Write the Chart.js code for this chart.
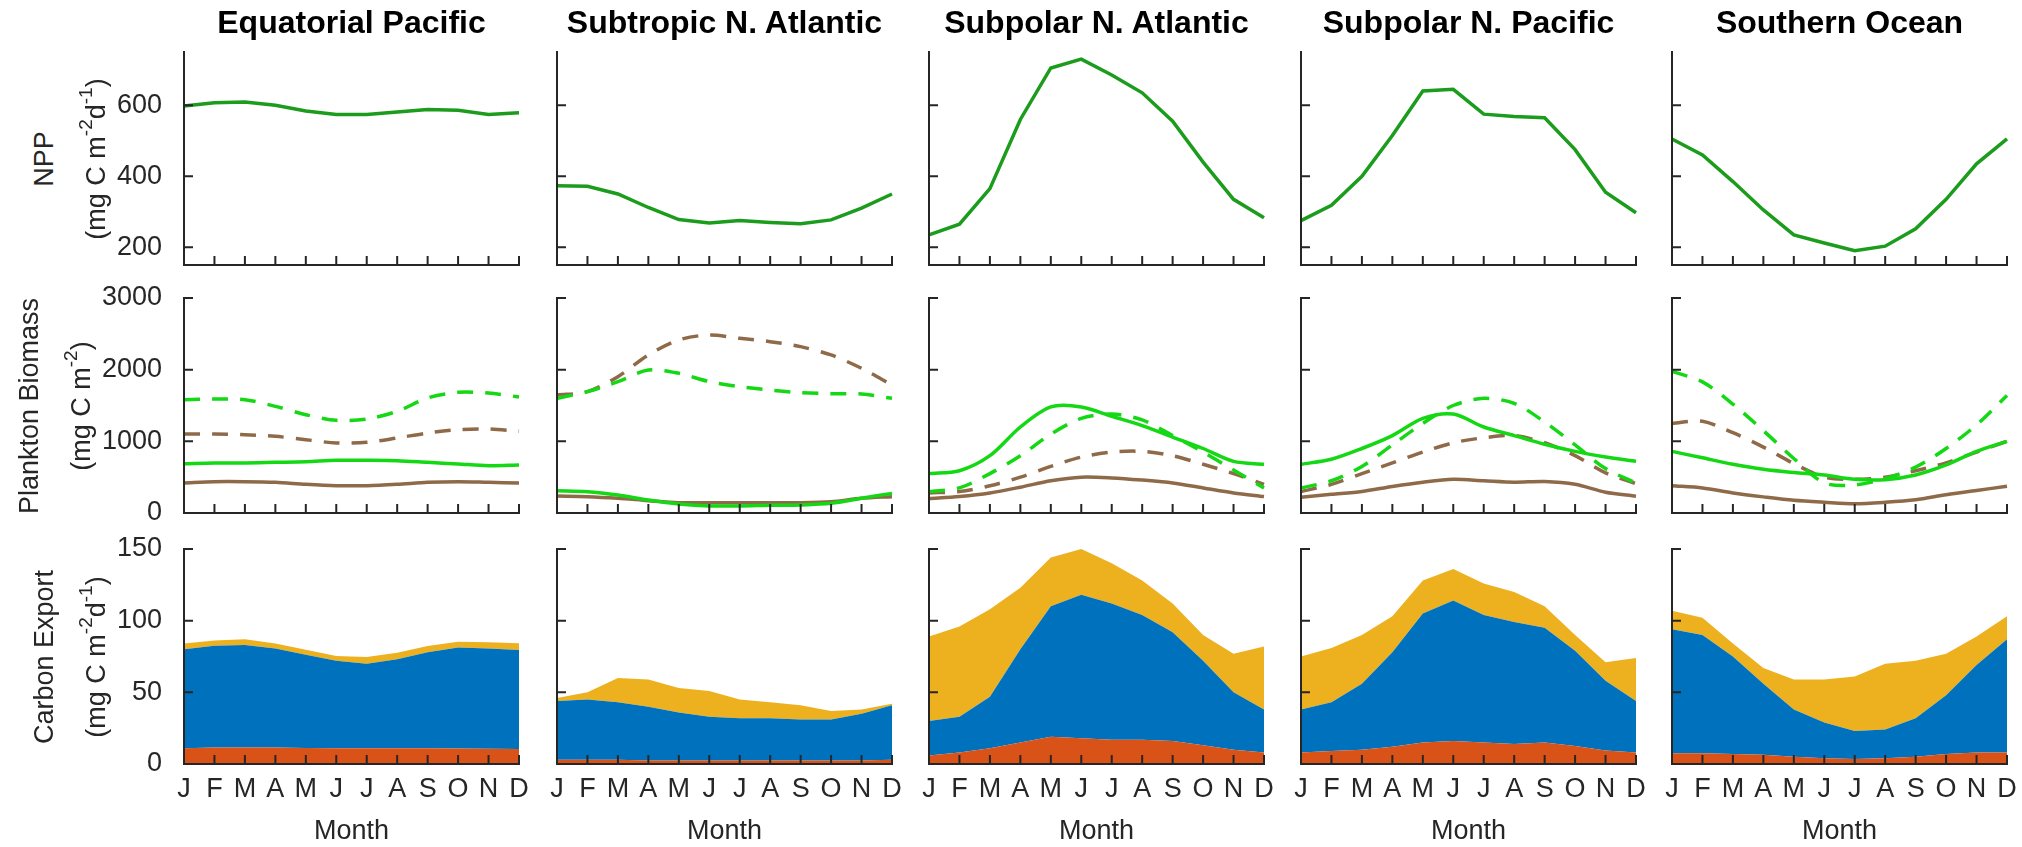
<!DOCTYPE html>
<html>
<head>
<meta charset="utf-8">
<script src="https://cdn.jsdelivr.net/npm/chart.js@4.4.1/dist/chart.umd.min.js"></script>
<style>
  body { margin: 0; width: 2022px; height: 847px; background: #fff; position: relative; overflow: hidden;
         font-family: "Liberation Sans", Arial, Helvetica, sans-serif; color: #262626; }
  canvas { position: absolute; }
  .title { position: absolute; width: 400px; text-align: center; font-weight: bold; font-size: 32px; line-height: 32px; color: #000; }
  .xlab { position: absolute; width: 200px; text-align: center; font-size: 27px; line-height: 27px; }
  .ylab { position: absolute; font-size: 27px; line-height: 27px; white-space: nowrap;
          transform: translate(-50%, -50%) rotate(-90deg); }
  .ylab sup { font-size: 19px; line-height: 0; position: relative; top: -3px; }
</style>
</head>
<body>
<script>
// month axis and region names
const months = ['J', 'F', 'M', 'A', 'M', 'J', 'J', 'A', 'S', 'O', 'N', 'D'];
const regions = ['Equatorial Pacific', 'Subtropic N. Atlantic', 'Subpolar N. Atlantic', 'Subpolar N. Pacific', 'Southern Ocean'];

const nppTicks = [200, 400, 600];
const biomassTicks = [0, 1000, 2000, 3000];
const exportTicks = [0, 50, 100, 150];

// net primary production, one row per region
const npp = [
  [598, 607, 609, 600, 584, 574, 574, 581, 588, 586, 574, 579],
  [373, 372, 350, 312, 278, 268, 275, 270, 266, 277, 310, 350],
  [235, 265, 365, 560, 705, 730, 685, 635, 555, 440, 335, 283],
  [275, 318, 400, 515, 640, 645, 575, 568, 565, 475, 355, 297],
  [505, 460, 385, 305, 235, 212, 190, 203, 252, 335, 435, 505]
];

// plankton biomass
const phyto = [
  [688, 698, 698, 707, 716, 735, 735, 730, 707, 684, 660, 670],
  [312, 298, 251, 181, 126, 98, 98, 107, 112, 135, 205, 274],
  [550, 590, 800, 1200, 1480, 1480, 1350, 1220, 1060, 900, 720, 680],
  [680, 750, 900, 1080, 1320, 1380, 1200, 1080, 960, 860, 780, 720],
  [860, 770, 680, 610, 565, 530, 470, 465, 530, 670, 860, 1000]
];
const zoo = [
  [419, 437, 437, 428, 400, 381, 381, 400, 428, 437, 428, 419],
  [237, 228, 205, 172, 144, 144, 144, 144, 144, 158, 205, 228],
  [200, 230, 280, 360, 450, 500, 490, 460, 420, 350, 280, 230],
  [220, 260, 300, 370, 430, 470, 450, 430, 440, 400, 290, 235],
  [380, 350, 280, 225, 177, 150, 130, 150, 185, 255, 315, 372]
];
const phytoAlt = [
  [1581, 1590, 1581, 1488, 1372, 1293, 1311, 1419, 1605, 1684, 1674, 1619],
  [1600, 1693, 1833, 1995, 1949, 1833, 1763, 1716, 1679, 1665, 1660, 1600],
  [300, 350, 550, 800, 1100, 1320, 1380, 1300, 1080, 850, 600, 350],
  [350, 450, 650, 950, 1250, 1500, 1600, 1530, 1270, 950, 620, 420],
  [1975, 1830, 1520, 1150, 760, 420, 390, 480, 640, 900, 1230, 1640]
];
const zooAlt = [
  [1102, 1102, 1093, 1070, 1023, 977, 986, 1047, 1116, 1163, 1172, 1140],
  [1647, 1693, 1902, 2205, 2414, 2484, 2437, 2391, 2321, 2205, 2019, 1786],
  [280, 300, 380, 500, 650, 780, 850, 860, 800, 680, 550, 400],
  [300, 400, 550, 700, 850, 980, 1050, 1080, 980, 800, 560, 410],
  [1250, 1280, 1120, 920, 690, 500, 470, 500, 590, 700, 850, 1000]
];

// carbon export components, stacked bottom to top
const exportLower = [
  [11, 11.5, 11.5, 11.5, 11.2, 11, 11, 11, 11, 10.8, 10.6, 10.5],
  [3, 3, 3, 2.5, 2.5, 2.5, 2.5, 2.5, 2.5, 2.5, 2.5, 3],
  [6, 8, 11, 15, 19, 18, 17, 17, 16, 13, 10, 8],
  [8, 9, 10, 12, 15, 16, 15, 14, 15, 12.5, 9.5, 8],
  [7.5, 7.5, 7, 6.5, 5, 4, 3.5, 4, 5, 7, 8, 8]
];
const exportMiddle = [
  [69, 71, 71.5, 69, 65, 61, 59, 62, 67, 70.5, 70, 69],
  [41, 42, 40, 37.5, 33.5, 30.5, 29.5, 29.5, 28.5, 28.5, 32.5, 38],
  [24, 25, 36, 65, 91, 100, 95, 87, 76, 59, 40, 30],
  [30, 34, 46, 66, 90, 98, 89, 85, 80, 66.5, 48.5, 36],
  [86.5, 82.5, 68, 49.5, 33, 25, 19.5, 20, 27, 41, 61, 79]
];
const exportUpper = [
  [4, 3.7, 4, 3.5, 3.5, 3.3, 4.7, 4.7, 4.3, 4, 4.4, 4.7],
  [2, 5, 17, 19, 17, 18, 13, 11, 10, 6, 3, 1],
  [59, 63, 61, 43, 34, 32, 28, 24, 20, 18, 27, 44],
  [37, 38, 34, 25, 23, 22, 22, 21, 15, 11, 13, 30],
  [13, 12, 9, 11, 21, 30, 38, 46, 40, 29, 20, 16]
];

// layout of the 5 x 3 grid of axes
const colLeft = [184, 557, 929, 1301, 1672];
const plotW = 335;
const rowTop = [52, 298, 549];
const rowH = [213, 215, 215];
const AXIS = '#262626';
const FONT = '"Liberation Sans", Arial, Helvetica, sans-serif';

Chart.defaults.font.family = FONT;
Chart.defaults.font.size = 27;
Chart.defaults.color = AXIS;

// left/bottom axis lines with inward ticks, drawn over the data
const matlabAxes = {
  id: 'matlabAxes',
  afterDraw(chart) {
    const { ctx, chartArea: a, scales: { x, y } } = chart;
    ctx.save();
    ctx.strokeStyle = AXIS;
    ctx.lineWidth = 2;
    ctx.lineCap = 'square';
    ctx.beginPath();
    ctx.moveTo(a.left, a.top);
    ctx.lineTo(a.left, a.bottom);
    ctx.lineTo(a.right, a.bottom);
    x.ticks.forEach((t, i) => {
      const px = x.getPixelForTick(i);
      ctx.moveTo(px, a.bottom);
      ctx.lineTo(px, a.bottom - 8);
    });
    y.ticks.forEach(t => {
      const py = y.getPixelForValue(t.value);
      ctx.moveTo(a.left, py);
      ctx.lineTo(a.left + 8, py);
    });
    ctx.stroke();
    ctx.restore();
  }
};

function makePanel(col, row, datasets, yMin, yMax, yTicks) {
  // margins are wide enough that tick label overhang never shrinks the plot area
  const L = col === 0 ? 120 : 24;
  const T = 34, R = 24;
  const B = row === 2 ? 52 : 34;
  const w = L + plotW + R;
  const h = T + rowH[row] + B;
  const canvas = document.createElement('canvas');
  canvas.width = w;
  canvas.height = h;
  canvas.style.left = (colLeft[col] - L) + 'px';
  canvas.style.top = (rowTop[row] - T) + 'px';
  canvas.style.width = w + 'px';
  canvas.style.height = h + 'px';
  document.body.appendChild(canvas);

  new Chart(canvas, {
    type: 'line',
    data: { labels: months, datasets },
    options: {
      responsive: false,
      animation: false,
      devicePixelRatio: 1,
      layout: { padding: { top: T, right: R, left: 0, bottom: 0 } },
      plugins: { legend: { display: false }, tooltip: { enabled: false } },
      elements: { point: { radius: 0 } },
      scales: {
        x: {
          grid: { display: false },
          border: { display: false },
          ticks: { display: row === 2, autoSkip: false, maxRotation: 0, padding: 1, color: AXIS },
          afterFit: s => { s.height = B; }
        },
        y: {
          min: yMin,
          max: yMax,
          stacked: row === 2,
          grid: { display: false },
          border: { display: false },
          ticks: { display: col === 0, padding: 14, color: AXIS, callback: v => String(v) },
          afterBuildTicks: s => { s.ticks = yTicks.map(v => ({ value: v })); },
          afterFit: s => { s.width = L; }
        }
      }
    },
    plugins: [matlabAxes]
  });
}

function lineSet(data, color, dashed, tension) {
  return {
    data,
    borderColor: color,
    borderWidth: 3.5,
    borderDash: dashed ? [16, 12] : [],
    tension,
    fill: false
  };
}

function areaSet(data, color, fill) {
  return {
    data,
    borderWidth: 0,
    borderColor: color,
    backgroundColor: color,
    fill,
    tension: 0
  };
}

regions.forEach((name, c) => {
  makePanel(c, 0, [lineSet(npp[c], '#1c9c1c', false, 0)], 150, 750, nppTicks);
  makePanel(c, 1, [
    lineSet(phyto[c], '#14d814', false, 0.3),
    lineSet(zoo[c], '#8f6a48', false, 0.3),
    lineSet(phytoAlt[c], '#14d814', true, 0.3),
    lineSet(zooAlt[c], '#8f6a48', true, 0.3)
  ], 0, 3000, biomassTicks);
  makePanel(c, 2, [
    areaSet(exportLower[c], '#D95319', 'origin'),
    areaSet(exportMiddle[c], '#0072BD', '-1'),
    areaSet(exportUpper[c], '#EDB120', '-1')
  ], 0, 150, exportTicks);

  const cx = colLeft[c] + plotW / 2;
  const t = document.createElement('div');
  t.className = 'title';
  t.textContent = name;
  t.style.left = (cx - 200) + 'px';
  t.style.top = (22 - 16) + 'px';
  document.body.appendChild(t);

  const m = document.createElement('div');
  m.className = 'xlab';
  m.textContent = 'Month';
  m.style.left = (cx - 100) + 'px';
  m.style.top = (830 - 13) + 'px';
  document.body.appendChild(m);
});

// two-line y axis titles on the first column
const yTitles = [
  { lines: ['NPP', '(mg C m<sup>-2</sup>d<sup>-1</sup>)'], x: [44, 96] },
  { lines: ['Plankton Biomass', '(mg C m<sup>-2</sup>)'], x: [29, 81] },
  { lines: ['Carbon Export', '(mg C m<sup>-2</sup>d<sup>-1</sup>)'], x: [44, 96] }
];
yTitles.forEach((yt, r) => {
  const cy = rowTop[r] + rowH[r] / 2;
  yt.lines.forEach((txt, i) => {
    const d = document.createElement('div');
    d.className = 'ylab';
    d.innerHTML = txt;
    d.style.left = yt.x[i] + 'px';
    d.style.top = cy + 'px';
    document.body.appendChild(d);
  });
});
</script>
</body>
</html>
